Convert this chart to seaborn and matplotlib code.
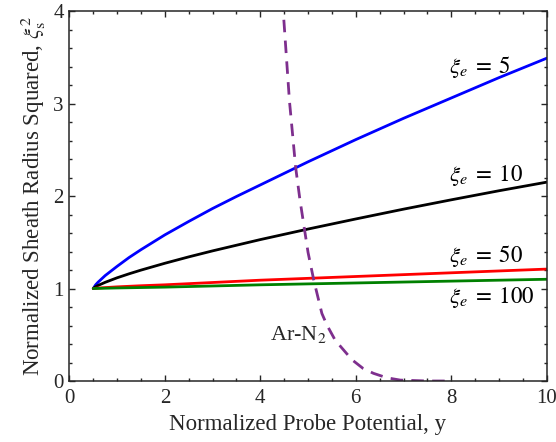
import numpy as np
import pandas as pd
import matplotlib
matplotlib.use("Agg")
import matplotlib.pyplot as plt
import seaborn as sns

# ---- data ----
blue_x = [0.5, 0.55, 0.6, 0.75, 1.0, 1.25, 1.5, 2.0, 2.5, 3.0, 3.5, 4.0, 4.5, 5.0, 6.0, 7.0, 8.0, 9.0, 10.0]
blue = [1.0, 1.04, 1.068, 1.14, 1.24, 1.335, 1.42, 1.58, 1.725, 1.865, 1.995, 2.12, 2.245, 2.37, 2.61, 2.84, 3.06, 3.28, 3.49]

black_x = [0.5, 0.55, 0.6, 0.75, 1.0, 1.25, 1.5, 2.0, 2.5, 3.0, 4.0, 5.0, 6.0, 7.0, 8.0, 9.0, 10.0]
black = [1.0, 1.019, 1.033, 1.067, 1.116, 1.159, 1.199, 1.273, 1.342, 1.407, 1.529, 1.643, 1.752, 1.858, 1.959, 2.057, 2.15]

red_x = [0.5, 0.6, 0.75, 1.0, 1.5, 2.0, 3.0, 4.0, 5.0, 6.0, 7.0, 8.0, 9.0, 10.0]
red = [1.0, 1.005, 1.01, 1.018, 1.03, 1.04, 1.065, 1.09, 1.11, 1.13, 1.15, 1.17, 1.19, 1.21]

green_x = [0.5, 1.0, 2.0, 4.0, 6.0, 8.0, 10.0]
green = [1.0, 1.006, 1.015, 1.04, 1.06, 1.08, 1.10]

arn2_x = [4.40, 4.48, 4.61, 4.74, 4.83, 5.0, 5.12, 5.29, 5.4, 5.57, 5.92, 6.15, 6.37, 6.65, 6.93, 7.5, 7.9]
arn2 = [4.6, 4.0, 3.03, 2.31, 1.96, 1.39, 1.09, 0.73, 0.60, 0.44, 0.23, 0.137, 0.083, 0.035, 0.01, 0.0, 0.0]

labels = [r"$\xi_e\;=\;5$", r"$\xi_e\;=\;10$", r"$\xi_e\;=\;50$", r"$\xi_e\;=\;100$"]
xticks = [0, 2, 4, 6, 8, 10]
yticks = [0, 1, 2, 3, 4]

# ---- styling ----
sns.set_theme(style="ticks")
plt.rcParams["font.family"] = ["Liberation Serif", "DejaVu Serif"]
plt.rcParams["mathtext.fontset"] = "stix"
ink = "#262626"

fig = plt.figure(figsize=(5.56, 4.42), dpi=100)
ax = fig.add_axes([0.1248, 0.138, 0.8585, 0.837])

lw = 2.0
series = [
    (blue_x, blue, "#0000ff"),
    (black_x, black, "#000000"),
    (red_x, red, "#ff0000"),
    (green_x, green, "#008000"),
]
for xs, ys, c in series:
    df = pd.DataFrame({"x": xs, "y": ys})
    sns.lineplot(data=df, x="x", y="y", ax=ax, color=c, linewidth=lw, sort=False)

dfa = pd.DataFrame({"x": arn2_x, "y": arn2})
sns.lineplot(data=dfa, x="x", y="y", ax=ax, color="#7e2f8e", linewidth=lw,
             sort=False)
ax.lines[-1].set_dashes((4.5, 3))

ax.set_xlim(0, 10)
ax.set_ylim(0, 4)
ax.set_xticks(xticks)
ax.set_yticks(yticks)
ax.set_xticks(np.arange(0, 10.01, 0.5), minor=True)
ax.set_yticks(np.arange(0, 4.01, 0.2), minor=True)
ax.tick_params(which="both", direction="in", top=True, right=True,
               colors=ink, labelsize=15, width=1.0)
ax.tick_params(which="major", length=4)
ax.tick_params(which="minor", length=2.2)
ax.tick_params(axis="x", pad=6)
ax.tick_params(axis="y", pad=4)
for s in ax.spines.values():
    s.set_color(ink)
    s.set_linewidth(1.1)

ax.set_xlabel("Normalized Probe Potential, y", fontsize=16.5, color=ink, labelpad=4)
ax.set_ylabel(r"Normalized Sheath Radius Squared, $\xi_\mathrm{s}^2$", fontsize=16.5,
              color=ink, labelpad=4)

fs = 16.5
ax.text(7.96, 3.40, labels[0], fontsize=fs, ha="left", va="center", color="black")
ax.text(7.96, 2.22, labels[1], fontsize=fs, ha="left", va="center", color="black")
ax.text(7.96, 1.35, labels[2], fontsize=fs, ha="left", va="center", color="black")
ax.text(7.96, 0.90, labels[3], fontsize=fs, ha="left", va="center", color="black")
ax.text(4.2, 0.50, r"Ar-N$_2$", fontsize=16, ha="left", va="center", color=ink)

fig.savefig("out.png", dpi=100)
